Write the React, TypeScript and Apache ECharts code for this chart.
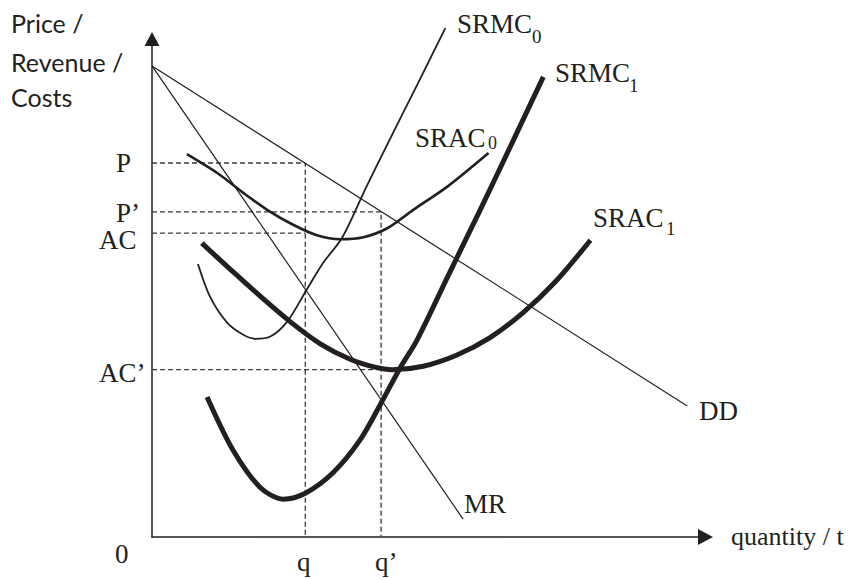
import React, { useEffect, useRef } from "react";
import * as echarts from "echarts";

// ---- data (chart units: x 0..100, y 0..100) ----
const qValue = 27.7;
const qPrimeValue = 41.4;
const pValue = 75.1;
const pPrimeValue = 65.3;
const acValue = 61.0;
const acPrimeValue = 33.6;
const acPrimeEndX = 43.0;

const ddLine = [[0, 94.6], [96.7, 26.3]];
const mrLine = [[0, 94.6], [56.2, 3.6]];

const srmc0 = [
  [8.3, 54.8], [10.5, 48.2], [13.6, 43.0], [16.5, 40.6], [18.6, 39.8],
  [21.3, 40.2], [24.4, 43.2], [27.7, 49.2], [30.9, 55.0], [34.4, 60.2],
  [38.6, 70.0], [42.9, 79.7], [48.0, 91.0], [53.0, 102.2],
];
const srac0 = [
  [6.3, 76.9], [11.8, 73.1], [16.5, 69.1], [20.8, 65.7], [25.5, 62.7],
  [29.8, 60.6], [34.0, 59.8], [38.2, 60.2], [42.5, 62.0], [47.2, 65.7],
  [53.3, 70.3], [60.8, 77.1],
];
const srmc1 = [
  [9.95, 28.1], [14.6, 17.5], [19.5, 10.0], [23.7, 7.6], [27.7, 8.8],
  [32.7, 12.9], [37.6, 19.5], [41.4, 26.9], [44.8, 33.9], [47.9, 39.6],
  [53.6, 52.7], [59.3, 65.7], [65.0, 79.0], [70.7, 92.4],
];
const srac1 = [
  [9.0, 59.0], [14.1, 53.8], [19.5, 48.4], [25.0, 43.2], [30.4, 38.8],
  [35.8, 35.7], [40.3, 34.1], [43.4, 33.6], [49.0, 34.3], [55.0, 36.5],
  [61.0, 40.0], [67.0, 45.0], [73.0, 51.4], [79.2, 59.6],
];

const yTitleLines = ["Price /", "Revenue /", "Costs"];
const xTitle = "quantity / t";

const INK = "#231f20";
const SERIF = '"Liberation Serif", "Times New Roman", serif';
const SANS = 'Lato, "Open Sans", sans-serif';

function serifText(text: string, left: number, baseline: number, size: number) {
  return {
    type: "text",
    x: left,
    y: baseline - 0.3375 * size,
    silent: true,
    style: {
      text,
      font: `${size}px ${SERIF}`,
      fill: INK,
      align: "left",
      verticalAlign: "middle",
    },
  };
}
function sansText(text: string, left: number, baseline: number, size: number) {
  return {
    type: "text",
    x: left,
    y: baseline - 0.387 * size,
    silent: true,
    style: {
      text,
      font: `${size}px ${SANS}`,
      fill: INK,
      align: "left",
      verticalAlign: "middle",
    },
  };
}

function lineSeries(data: number[][], width: number, dashed = false, smooth: number | boolean = 0.3) {
  return {
    type: "line",
    data,
    showSymbol: false,
    symbol: "none",
    smooth,
    clip: false,
    silent: true,
    lineStyle: {
      color: dashed ? "#3a3a3a" : INK,
      width,
      type: dashed ? [5, 3] : "solid",
      cap: "butt",
    },
  };
}

export default function App() {
  const ref = useRef<HTMLDivElement>(null);
  useEffect(() => {
    document.body.style.margin = "0";
    if (!ref.current) return;
    const chart = echarts.init(ref.current, null, { renderer: "svg" });
    const big = 27;
    const sub = 19;
    chart.setOption({
      animation: false,
      backgroundColor: "#ffffff",
      grid: { left: 152, top: 39, right: 151.5, bottom: 43, containLabel: false },
      xAxis: {
        type: "value",
        min: 0,
        max: 100,
        axisLine: {
          show: true,
          symbol: ["none", "triangle"],
          symbolSize: [16, 15],
          lineStyle: { color: INK, width: 1.5 },
        },
        axisTick: { show: false },
        axisLabel: { show: false },
        splitLine: { show: false },
      },
      yAxis: {
        type: "value",
        min: 0,
        max: 100,
        axisLine: {
          show: true,
          symbol: ["none", "triangle"],
          symbolSize: [15, 14],
          lineStyle: { color: INK, width: 1.5 },
        },
        axisTick: { show: false },
        axisLabel: { show: false },
        splitLine: { show: false },
      },
      series: [
        lineSeries([[0, pValue], [qValue, pValue], [qValue, 0]], 1.3, true, false),
        lineSeries([[0, pPrimeValue], [qPrimeValue, pPrimeValue], [qPrimeValue, 0]], 1.3, true, false),
        lineSeries([[0, acValue], [qValue, acValue]], 1.3, true, false),
        lineSeries([[0, acPrimeValue], [acPrimeEndX, acPrimeValue]], 1.3, true, false),
        lineSeries(ddLine, 1.2, false, false),
        lineSeries(mrLine, 1.2, false, false),
        lineSeries(srmc0, 1.8),
        lineSeries(srac0, 2.6),
        lineSeries(srac1, 5),
        lineSeries(srmc1, 5),
      ],
      graphic: [
        sansText(yTitleLines[0], 11, 33, 25),
        sansText(yTitleLines[1], 11, 72, 25),
        sansText(yTitleLines[2], 11, 107, 25),
        serifText("SRMC", 457, 33, big),
        serifText("0", 532, 43, sub),
        serifText("SRMC", 555, 82, big),
        serifText("1", 629, 92, sub),
        serifText("SRAC", 415, 147, big),
        serifText("0", 488, 149, 18),
        serifText("SRAC", 593, 227, big),
        serifText("1", 666, 235, sub),
        serifText("DD", 699, 420, big),
        serifText("MR", 464, 513, big),
        serifText(xTitle, 731, 545, 26),
        serifText("0", 115, 563, big),
        serifText("q", 297, 571, big),
        serifText("q\u2019", 375, 571, big),
        serifText("P", 116, 172, big),
        serifText("P\u2019", 116, 222, big),
        serifText("AC", 99, 249, big),
        serifText("AC\u2019", 99, 382, big),
      ],
    });
    return () => chart.dispose();
  }, []);
  return <div ref={ref} style={{ width: 857, height: 580 }} />;
}
